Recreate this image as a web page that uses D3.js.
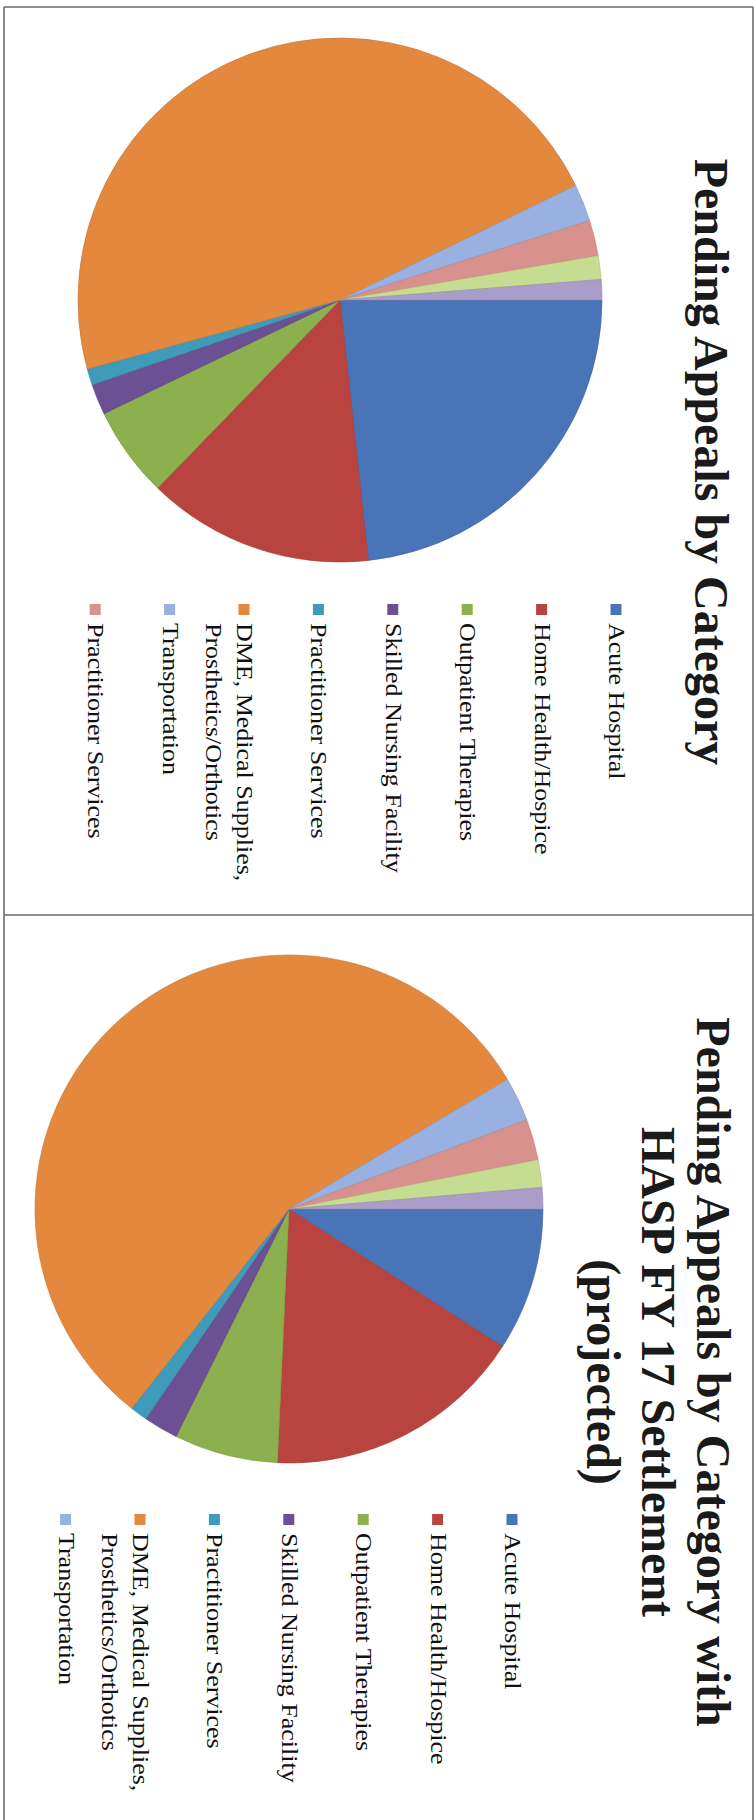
<!DOCTYPE html>
<html>
<head>
<meta charset="utf-8">
<script src="https://cdn.jsdelivr.net/npm/d3@7"></script>
<style>
  html, body { margin: 0; padding: 0; background: #ffffff; }
  svg { display: block; }
</style>
</head>
<body>
<svg id="chart" width="756" height="1820"></svg>
<script>
// ---- data (shares of pending appeals, %) ----
const categories = [
  "Acute Hospital",
  "Home Health/Hospice",
  "Outpatient Therapies",
  "Skilled Nursing Facility",
  "Practitioner Services",
  "DME, Medical Supplies,\nProsthetics/Orthotics",
  "Transportation",
  "Practitioner Services",
  "Category 9",
  "Category 10"
];
const currentShares   = [23.3, 14.0, 5.6, 1.9, 1.0, 47.1, 2.3, 2.2, 1.45, 1.25];
const projectedShares = [9.1, 16.6, 6.6, 2.2, 1.1, 55.8, 2.8, 2.6, 1.75, 1.35];
const sliceColors = ["#4a74b8", "#b8433f", "#8cb04e", "#6c5094", "#3e9cba",
                     "#e4883e", "#98b1e0", "#d8918d", "#c6dc90", "#ab9dca"];
const titleTop = ["Pending Appeals by Category"];
const titleBottom = ["Pending Appeals by Category with", "HASP FY 17 Settlement", "(projected)"];
const legendCountTop = 8;
const legendCountBottom = 7;

const svg = d3.select("#chart");

// frame lines
const frame = svg.append("g").attr("stroke", "#6b6b6b").attr("stroke-width", 1.6).attr("fill", "none");
frame.append("line").attr("x1", 4).attr("y1", 7).attr("x2", 753).attr("y2", 7);
frame.append("line").attr("x1", 4).attr("y1", 7).attr("x2", 4).attr("y2", 1820);
frame.append("line").attr("x1", 753).attr("y1", 7).attr("x2", 753).attr("y2", 1820);
frame.append("line").attr("x1", 4).attr("y1", 915).attr("x2", 753).attr("y2", 915);

const color = d3.scaleOrdinal().domain(d3.range(categories.length)).range(sliceColors);

function drawPanel(offsetY, values, titleLines, legendCount, cfg) {
  // panel is drawn in a landscape frame, rotated 90deg clockwise
  const g = svg.append("g").attr("transform", `translate(756,${offsetY}) rotate(90)`);

  const pie = d3.pie().sort(null).value(d => d.v);
  const arc = d3.arc().innerRadius(0).outerRadius(cfg.r);
  const data = values.map((v, i) => ({ v, i }));

  const pg = g.append("g").attr("transform", `translate(${cfg.cx},${cfg.cy})`);
  pg.selectAll("path").data(pie(data)).join("path")
    .attr("d", arc)
    .attr("fill", d => color(d.data.i))
    .attr("stroke", d => d3.color(color(d.data.i)).darker(0.4))
    .attr("stroke-width", 0.6);

  // title
  const tg = g.append("g");
  titleLines.forEach((t, k) => {
    tg.append("text")
      .attr("x", 462)
      .attr("y", cfg.titleY + k * 55)
      .attr("text-anchor", "middle")
      .attr("font-family", "'Liberation Serif', 'Times New Roman', serif")
      .attr("font-weight", "bold")
      .attr("font-size", 48)
      .attr("fill", "#1a1a1a")
      .text(t);
  });

  // legend
  const lg = g.append("g");
  for (let i = 0; i < legendCount; i++) {
    const yc = cfg.legendY + i * 74.4;
    lg.append("rect")
      .attr("x", 609.5 - 5.5).attr("y", yc - 5.5)
      .attr("width", 11).attr("height", 11)
      .attr("fill", color(i));
    const lines = categories[i].split("\n");
    lines.forEach((ln, k) => {
      lg.append("text")
        .attr("transform", `translate(623,${yc + 7 + k * 31}) scale(1,0.85)`)
        .attr("font-family", "'Liberation Serif', 'Times New Roman', serif")
        .attr("font-size", 26)
        .attr("fill", "#111")
        .text(ln);
    });
  }
}

drawPanel(0, currentShares, titleTop, legendCountTop,
  { cx: 300, cy: 416, r: 262, titleY: 61, legendY: 140 });
drawPanel(910, projectedShares, titleBottom, legendCountBottom,
  { cx: 299, cy: 467, r: 254, titleY: 59.5, legendY: 244 });
</script>
</body>
</html>
